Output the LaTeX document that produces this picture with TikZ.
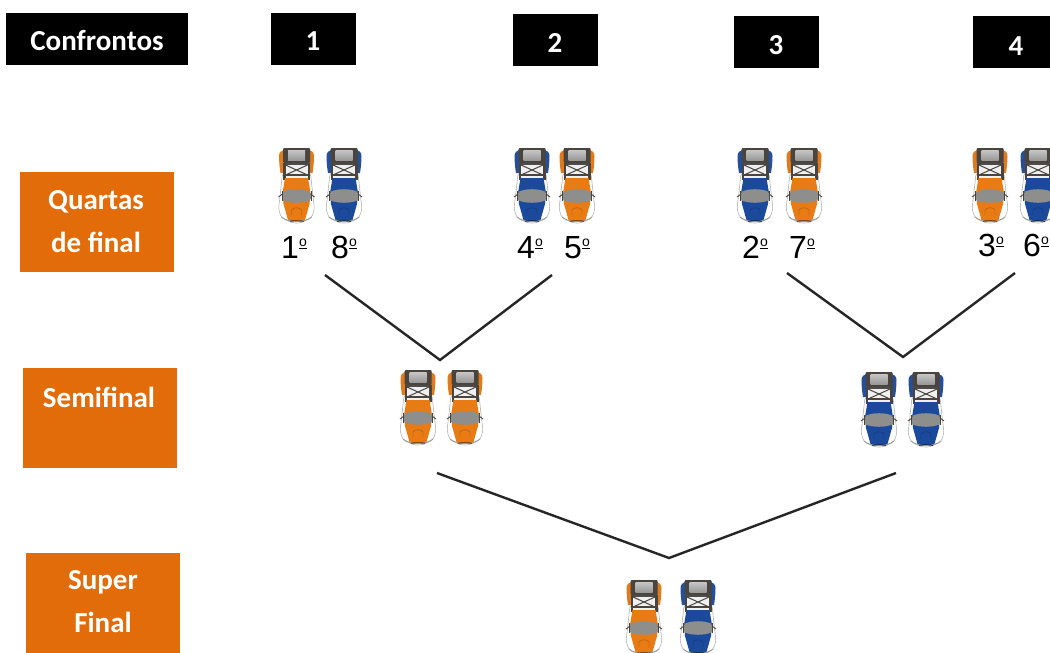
\documentclass[tikz,border=0pt]{standalone}
\usepackage{fontspec}
\setmainfont{Carlito}
\newfontfamily\rankfont{Liberation Sans}
\definecolor{carorange}{HTML}{E87B14}
\definecolor{carblue}{HTML}{1B4A9C}
\definecolor{boxorange}{HTML}{E36C0A}
\definecolor{framedark}{HTML}{4A443E}
\definecolor{glassgrey}{HTML}{8E8E8C}
\tikzset{
  x=1pt,y=-1pt,
  boxlabel/.style={text=white,font=\fontsize{29}{30}\selectfont\bfseries,inner sep=0pt},
  headlabel/.style={text=white,font=\fontsize{29}{30}\selectfont\bfseries,inner sep=0pt},
  ranklabel/.style={font=\rankfont\fontsize{32}{34}\selectfont,inner sep=0pt,anchor=base},
  bracket/.style={line width=2.4pt,black!85,line join=miter},
  pics/car/.style={code={
    % side panels (colored)
    \fill[#1!90!gray] (-17.5,9) .. controls (-17.5,5) and (-15,4) .. (-13,3) -- (-13,26) -- (-16,26) .. controls (-17,20) and (-17.5,14) .. (-17.5,9) -- cycle;
    \fill[#1!90!gray] (17.5,9) .. controls (17.5,5) and (15,4) .. (13,3) -- (13,26) -- (16,26) .. controls (17,20) and (17.5,14) .. (17.5,9) -- cycle;
    % white body shell with grey outline
    \filldraw[fill=white,draw=gray!60,line width=.6pt,rounded corners=3pt]
      (-14,26) -- (-16,45) -- (-18,62) -- (-15,71) -- (-4,76) -- (4,76) -- (15,71) -- (18,62) -- (16,45) -- (14,26) -- cycle;
    % roll cage frame
    \fill[framedark,rounded corners=1pt] (-13.5,1) rectangle (13.5,16);
    \fill[framedark] (-13.5,16) rectangle (-11,33);
    \fill[framedark] (13.5,16) rectangle (11,33);
    \fill[white!88!gray] (-11,16) rectangle (11,32);
    \shade[top color=gray!45,bottom color=gray!80] (-8.5,3) rectangle (8.5,13);
    \fill[gray!60!black] (-11,16) rectangle (11,18);
    % X bracing
    \draw[framedark,line width=1pt] (-11,18) -- (11,28) (-11,28) -- (11,18);
    \draw[framedark,line width=1.1pt] (-11,28) -- (11,28);
    % bonnet
    \fill[#1] (-11.5,31) -- (11.5,31) -- (14,46) -- (13,57) -- (8.5,73) -- (-8.5,73) -- (-13,57) -- (-14,46) -- cycle;
    % windscreen
    \fill[glassgrey,rounded corners=1.5pt] (-14,45) .. controls (-6,41.5) and (6,41.5) .. (14,45) -- (14.5,53) .. controls (6,56.5) and (-6,56.5) .. (-14.5,53) -- cycle;
    \draw[framedark,line width=.9pt] (-18,50) -- (-14,47) (18,50) -- (14,47);
    \draw[framedark,line width=.8pt] (-14.5,44) -- (-14.5,54) (14.5,44) -- (14.5,54);
    % bonnet detail
    \draw[#1!70!black,line width=.4pt] (-5,68) -- (-5,63) .. controls (-3,60) and (3,60) .. (5,63) -- (5,68);
    \fill[#1!55!black] (-7,72.5) rectangle (7,74.5);
    % bumper
    \draw[gray!80,line width=.8pt] (-15,70) .. controls (-8,76) and (8,76) .. (15,70);
  }},
}
\newcommand{\rk}[1]{#1{\raisebox{.36em}{\fontsize{14}{14}\selectfont\underline{\smash{o}}}}}
\begin{document}
\begin{tikzpicture}
\useasboundingbox (0,0) rectangle (1050,653);
\clip (0,0) rectangle (1050,653);
\fill[white] (0,0) rectangle (1050,653);
% header boxes
\fill[black] (6,13) rectangle (188,65);
\fill[black] (271,13) rectangle (356,65);
\fill[black] (513,14) rectangle (598,66);
\fill[black] (734,16) rectangle (819,68);
\fill[black] (973,16) rectangle (1058,68);
\node[headlabel] (confrontos) at (97,41) {Confrontos};
\node[headlabel] (n1) at (313,41) {1};
\node[headlabel] (n2) at (555,43) {2};
\node[headlabel] (n3) at (776,45) {3};
\node[headlabel] (n4) at (1016,46) {4};
% round boxes
\fill[boxorange] (20,172) rectangle (174,272);
\fill[boxorange] (23,368) rectangle (177,468);
\fill[boxorange] (26,553) rectangle (180,653);
\node[boxlabel] (q1) at (96,202) {Quartas};
\node[boxlabel] (q2) at (96,242) {de final};
\node[boxlabel] (semi) at (99,397) {Semifinal};
\node[boxlabel] (s1) at (103,582) {Super};
\node[boxlabel] (s2) at (103,622) {Final};
% cars
\pic at (296.5,147) {car=carorange};
\pic at (344,147) {car=carblue};
\pic at (532,147) {car=carblue};
\pic at (577,147) {car=carorange};
\pic at (755,147) {car=carblue};
\pic at (804,147) {car=carorange};
\pic at (990,147) {car=carorange};
\pic at (1038,147) {car=carblue};
\pic at (418,369) {car=carorange};
\pic at (465,369) {car=carorange};
\pic at (879,371) {car=carblue};
\pic at (926,371) {car=carblue};
\pic at (644,579) {car=carorange};
\pic at (698,579) {car=carblue};
% ranks
\node[ranklabel] (r1) at (294,258) {\rk{1}};
\node[ranklabel] (r8) at (344,258) {\rk{8}};
\node[ranklabel] (r4) at (530,258) {\rk{4}};
\node[ranklabel] (r5) at (577,258) {\rk{5}};
\node[ranklabel] (r2) at (755,258) {\rk{2}};
\node[ranklabel] (r7) at (802,258) {\rk{7}};
\node[ranklabel] (r3) at (991,256) {\rk{3}};
\node[ranklabel] (r6) at (1036,256) {\rk{6}};
% brackets
\coordinate (a1) at (325,275); \coordinate (a2) at (440,360); \coordinate (a3) at (552,275);
\coordinate (b1) at (787,273); \coordinate (b2) at (903,357); \coordinate (b3) at (1015,273);
\coordinate (c1) at (437,473); \coordinate (c2) at (669,558); \coordinate (c3) at (896,473);
\draw[bracket] (a1) -- (a2) -- (a3);
\draw[bracket] (b1) -- (b2) -- (b3);
\draw[bracket] (c1) -- (c2) -- (c3);
\end{tikzpicture}
\end{document}
